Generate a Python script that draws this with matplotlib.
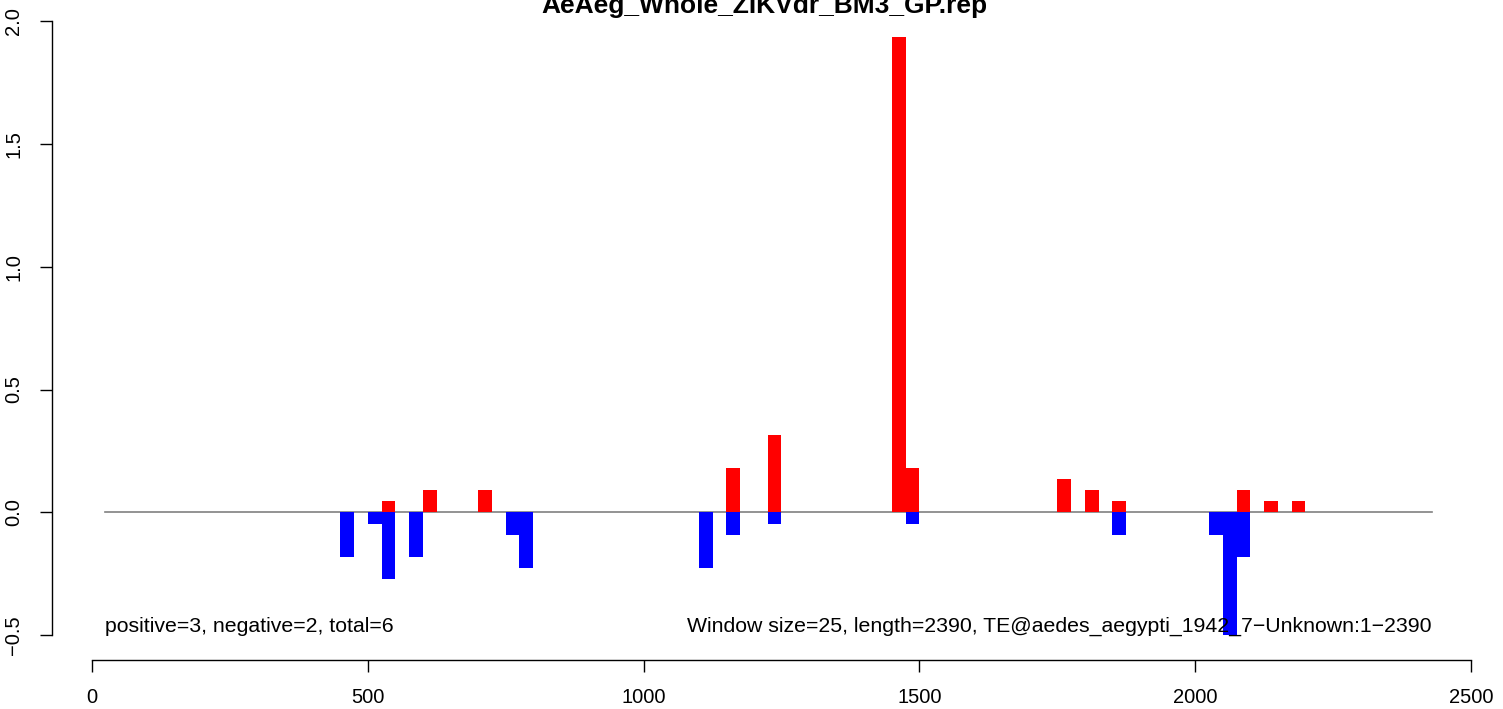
import matplotlib
matplotlib.use("Agg")
import matplotlib.pyplot as plt

# Data: window start positions (window size 25) and values
window = 25
pos_starts = [525, 600, 700, 1150, 1225, 1450, 1475, 1750, 1800, 1850, 2075, 2125, 2175]
pos_vals   = [0.046, 0.091, 0.091, 0.18, 0.315, 1.937, 0.18, 0.136, 0.091, 0.046, 0.091, 0.046, 0.046]
neg_starts = [450, 500, 525, 575, 750, 775, 1100, 1150, 1225, 1475, 1850, 2025, 2050, 2075]
neg_vals   = [-0.181, -0.046, -0.27, -0.181, -0.091, -0.226, -0.226, -0.091, -0.046, -0.046, -0.091, -0.091, -0.5, -0.181]

title = "AeAeg_Whole_ZIKVdr_BM3_GP.rep"
left_note = "positive=3, negative=2, total=6"
right_note = "Window size=25, length=2390, TE@aedes_aegypti_1942_7\u2212Unknown:1\u22122390"
xticks = [0, 500, 1000, 1500, 2000, 2500]
yticks = [-0.5, 0.0, 0.5, 1.0, 1.5, 2.0]
line_range = [24, 2429]

plt.rcParams['font.family'] = ['Liberation Sans', 'DejaVu Sans']

W, H = 1503, 709
fig = plt.figure(figsize=(W / 100, H / 100), dpi=100)
ax = fig.add_axes([52 / W, (H - 659.6) / H, (1482 - 52) / W, 662.9 / H])
ax.set_xlim(-72.5, 2520)
ax.set_ylim(-0.6, 2.1)

ax.plot(line_range, [0, 0], color='#808080', lw=1.2, zorder=1)
ax.bar(neg_starts, neg_vals, width=window, align='edge', color='#0000ff', lw=0, zorder=2)
ax.bar(pos_starts, pos_vals, width=window, align='edge', color='#ff0000', lw=0, zorder=2)

for s in ['top', 'right']:
    ax.spines[s].set_visible(False)
ax.spines['left'].set_bounds(-0.5, 2.0)
ax.spines['bottom'].set_bounds(0, 2500)
for s in ['left', 'bottom']:
    ax.spines[s].set_linewidth(1.0)

ax.set_xticks(xticks)
ax.set_xticklabels([str(t) for t in xticks])
ax.set_yticks(yticks)
ax.set_yticklabels([f"{t:.1f}".replace('-', '\u2212') for t in yticks], rotation=90, va='center')
ax.tick_params(axis='both', length=8.8, width=1.0, labelsize=14.5, direction='out')
ax.tick_params(axis='x', pad=12)
ax.tick_params(axis='y', pad=12)

ax.text(line_range[0], -0.465, left_note, ha='left', va='center', fontsize=15.3)
ax.text(line_range[1], -0.465, right_note, ha='right', va='center', fontsize=15.3)

fig.text(764 / W, (H - 13) / H, title, ha='center', va='baseline', fontsize=19, fontweight='bold')

fig.savefig("out.png", dpi=100)
